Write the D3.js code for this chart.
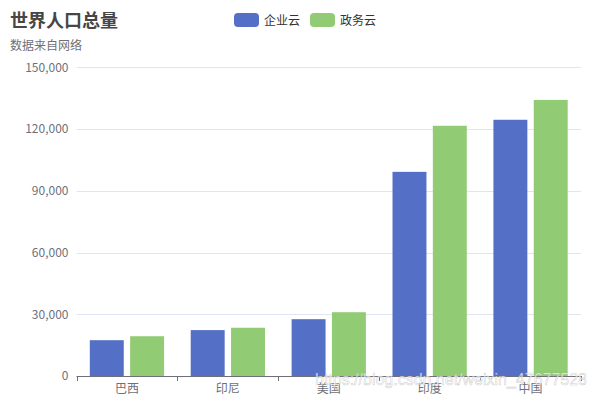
<!DOCTYPE html>
<html><head><meta charset="utf-8">
<script src="https://cdn.jsdelivr.net/npm/d3@7"></script>
<style>body{margin:0;background:#fff}svg{display:block;font-family:"Microsoft YaHei","Noto Sans CJK SC",sans-serif}</style>
</head><body><svg id="c" width="596" height="397"></svg>
<script>
const categories = ["巴西", "印尼", "美国", "印度", "中国"];
const seriesNames = ["企业云", "政务云"];
const enterprise = [17400, 22300, 27600, 99200, 124500];
const government = [19325, 23438, 31000, 121594, 134141];
const yTicks = [0, 30000, 60000, 90000, 120000, 150000];
const colors = ["#5470c6", "#91cc75"];
const titleText = "世界人口总量";
const subText = "数据来自网络";
const watermark = "https://blog.csdn.net/weixin_47677528";

const svg = d3.select("#c");
const m = {l: 76.5, r: 581, t: 67.3, b: 376};
const x0 = d3.scaleBand().domain(categories).range([m.l, m.r]).padding(0);
const x1 = d3.scaleBand().domain(seriesNames).range([0, x0.bandwidth()]).paddingInner(0.158).paddingOuter(0.33);
const y = d3.scaleLinear().domain([0, 150000]).range([m.b, m.t]);

// grid
svg.append("g").selectAll("line").data(yTicks.filter(d => d > 0)).join("line")
  .attr("x1", m.l).attr("x2", m.r).attr("y1", d => Math.round(y(d)) + 0.5).attr("y2", d => Math.round(y(d)) + 0.5)
  .attr("stroke", "#e0e6f1").attr("stroke-width", 1);

// y axis labels
const ya = svg.append("g").attr("transform", `translate(${m.l},0)`)
  .call(d3.axisLeft(y).tickValues(yTicks).tickSize(0).tickPadding(8).tickFormat(d3.format(",")));
ya.select(".domain").remove();
ya.selectAll("text").attr("fill", "#6e7079").style("font-size", "12px").style("font-family", "'Microsoft YaHei','Noto Sans CJK SC',sans-serif");

// bars
const data = categories.map((c, i) => ({c, vals: [enterprise[i], government[i]]}));
const g = svg.append("g");
g.selectAll("g").data(data).join("g").attr("transform", d => `translate(${x0(d.c)},0)`)
  .selectAll("rect").data(d => d.vals.map((v, j) => ({s: seriesNames[j], v, j}))).join("rect")
  .attr("x", d => x1(d.s)).attr("width", x1.bandwidth())
  .attr("y", d => y(d.v)).attr("height", d => y(0) - y(d.v))
  .attr("fill", d => colors[d.j]);

// x axis
const xa = svg.append("g").attr("transform", `translate(0,${m.b})`)
  .call(d3.axisBottom(x0).tickSize(0).tickPadding(8));
xa.select(".domain").attr("stroke", "#6e7079").attr("d", `M${m.l},0.5H${m.r}`);
xa.selectAll("text").attr("fill", "#6e7079").style("font-size", "12px").style("font-family", "'Microsoft YaHei','Noto Sans CJK SC',sans-serif");
const bounds = categories.map(c => x0(c)).concat([x0(categories[categories.length-1]) + x0.bandwidth()]);
xa.append("g").selectAll("line").data(bounds).join("line")
  .attr("x1", d => Math.round(d) + 0.5).attr("x2", d => Math.round(d) + 0.5).attr("y1", 0).attr("y2", 5)
  .attr("stroke", "#6e7079");

// title
svg.append("text").attr("x", 10).attr("y", 27).text(titleText)
  .attr("fill", "#464646").style("font-size", "18px").style("font-weight", "bold");
svg.append("text").attr("x", 10).attr("y", 50).text(subText)
  .attr("fill", "#6e7079").style("font-size", "12px");

// legend
const leg = svg.append("g");
const legX = [234, 310];
seriesNames.forEach((s, i) => {
  leg.append("rect").attr("x", legX[i]).attr("y", 13).attr("width", 25).attr("height", 14).attr("rx", 4).attr("fill", colors[i]);
  leg.append("text").attr("x", legX[i] + 30).attr("y", 24.5).text(s).attr("fill", "#333").style("font-size", "12px");
});

// watermark
svg.append("text").attr("x", 315).attr("y", 385).text(watermark)
  .attr("textLength", 272).attr("lengthAdjust", "spacingAndGlyphs")
  .style("font-family", "'Liberation Sans Narrow','Liberation Sans',Arial,sans-serif").style("font-size", "17px")
  .attr("fill", "rgba(255,255,255,0.75)").attr("stroke", "rgba(150,150,150,0.45)").attr("stroke-width", 0.6);
</script></body></html>
